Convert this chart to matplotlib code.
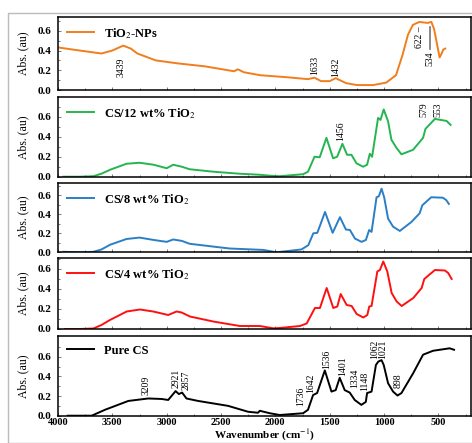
import matplotlib
matplotlib.use("Agg")
import matplotlib.pyplot as plt
from matplotlib.ticker import MultipleLocator, FixedLocator
from matplotlib.patches import Rectangle

plt.rcParams['font.family'] = ['Liberation Serif', 'DejaVu Serif']
plt.rcParams['mathtext.fontset'] = 'stix'

# ---- data ----
tio2_w = [3990, 3800, 3600, 3500, 3400, 3330, 3270, 3100, 2900, 2650, 2380, 2345, 2290,
          2140, 1900, 1700, 1640, 1580, 1500, 1445, 1350, 1250, 1100, 980, 890, 830, 780,
          735, 675, 600, 565, 540, 510, 489, 470, 455, 437]
tio2_a = [0.43, 0.40, 0.37, 0.40, 0.45, 0.42, 0.37, 0.30, 0.27, 0.24, 0.19, 0.21, 0.18,
          0.15, 0.13, 0.11, 0.125, 0.09, 0.09, 0.12, 0.07, 0.05, 0.05, 0.075, 0.15, 0.355, 0.56,
          0.66, 0.69, 0.68, 0.69, 0.62, 0.45, 0.33, 0.37, 0.41, 0.42]

cs12_w = [3950, 3800, 3675, 3600, 3520, 3370, 3250, 3120, 3000, 2940, 2860, 2790, 2570,
          2330, 2150, 2050, 1960, 1850, 1745, 1700, 1640, 1592, 1530, 1469, 1432, 1383, 1340,
          1300, 1254, 1193, 1156, 1131, 1110, 1055, 1033, 1003, 963, 932, 886, 840, 733, 641,
          619, 532, 425, 388]
cs12_a = [0.0, 0.0, 0.005, 0.03, 0.07, 0.13, 0.14, 0.12, 0.085, 0.12, 0.10, 0.075, 0.05,
          0.03, 0.02, 0.01, 0.005, 0.015, 0.025, 0.05, 0.2, 0.195, 0.39, 0.185, 0.2, 0.33, 0.22,
          0.22, 0.135, 0.10, 0.12, 0.23, 0.2, 0.59, 0.57, 0.675, 0.555, 0.37, 0.29, 0.225, 0.27,
          0.39, 0.48, 0.58, 0.56, 0.52]

cs8_w = [3950, 3800, 3675, 3600, 3520, 3370, 3250, 3120, 3000, 2940, 2860, 2790, 2570,
         2420, 2110, 1990, 1760, 1697, 1651, 1614, 1543, 1473, 1406, 1351, 1314, 1268, 1207,
         1167, 1137, 1115, 1069, 1048, 1023, 999, 963, 917, 855, 748, 673, 648, 566, 459, 428, 404]
cs8_a = [0.005, 0.0, 0.005, 0.03, 0.08, 0.14, 0.155, 0.13, 0.11, 0.135, 0.12, 0.09, 0.06,
         0.04, 0.025, 0.0, 0.03, 0.075, 0.2, 0.205, 0.425, 0.205, 0.37, 0.24, 0.235, 0.145, 0.11,
         0.13, 0.235, 0.215, 0.58, 0.59, 0.67, 0.58, 0.355, 0.27, 0.225, 0.32, 0.41, 0.495, 0.58,
         0.575, 0.55, 0.51]

cs4_w = [3936, 3800, 3675, 3600, 3522, 3368, 3246, 3124, 2986, 2909, 2863, 2786, 2572,
         2327, 2143, 2020, 1960, 1774, 1712, 1636, 1590, 1528, 1467, 1430, 1399, 1344, 1298,
         1252, 1191, 1154, 1136, 1115, 1062, 1038, 1007, 970, 930, 884, 838, 731, 654, 630,
         532, 440, 410, 378]
cs4_a = [0.0, 0.0, 0.005, 0.04, 0.09, 0.175, 0.195, 0.175, 0.14, 0.175, 0.165, 0.125, 0.075,
         0.03, 0.03, 0.007, 0.01, 0.03, 0.055, 0.21, 0.21, 0.41, 0.21, 0.225, 0.35, 0.24, 0.23,
         0.15, 0.115, 0.14, 0.225, 0.23, 0.575, 0.59, 0.675, 0.575, 0.36, 0.275, 0.23, 0.31, 0.41,
         0.5, 0.59, 0.585, 0.56, 0.5]

pure_w = [3911, 3690, 3568, 3353, 3170, 3047, 2986, 2918, 2888, 2858, 2818, 2711, 2435,
          2251, 2160, 2143, 2051, 1960, 1745, 1700, 1653, 1616, 1545, 1484, 1445, 1408, 1362,
          1316, 1270, 1209, 1168, 1156, 1115, 1075, 1053, 1023, 1003, 963, 917, 876, 840, 733,
          641, 549, 396, 356]
pure_a = [0.0, 0.0, 0.06, 0.15, 0.175, 0.17, 0.16, 0.25, 0.22, 0.235, 0.175, 0.15, 0.1,
          0.04, 0.03, 0.05, 0.025, 0.007, 0.025, 0.06, 0.21, 0.23, 0.46, 0.245, 0.26, 0.385, 0.26,
          0.235, 0.16, 0.11, 0.14, 0.23, 0.245, 0.515, 0.55, 0.565, 0.515, 0.33, 0.245, 0.205, 0.23,
          0.43, 0.62, 0.66, 0.685, 0.67]

labels = ['TiO$_2$-NPs', 'CS/12 wt% TiO$_2$', 'CS/8 wt% TiO$_2$', 'CS/4 wt% TiO$_2$', 'Pure CS']
colors = ['#f07e1c', '#25b550', '#2a7fc6', '#ff1010', 'black']
ymax = [0.74, 0.80, 0.73, 0.71, 0.81]
yticks = [0.0, 0.2, 0.4, 0.6]

# peak labels: (text, wavenumber, absorbance) per panel
peaks = [
    [('3439', 3424, 0.23), ('1633', 1638, 0.25), ('1432', 1445, 0.235), ('622 \u2013', 673, 0.54),
     ('534', 580, 0.32)],
    [('1456', 1398, 0.455), ('579', 630, 0.67), ('553', 507, 0.67)],
    [],
    [],
    [('3209', 3193, 0.31), ('2921', 2915, 0.38), ('2857', 2817, 0.36), ('1736', 1768, 0.195),
     ('1642', 1676, 0.33), ('1536', 1530, 0.57), ('1401', 1383, 0.5), ('1334', 1270, 0.38),
     ('1148', 1178, 0.345), ('1062', 1086, 0.67), ('1021', 1015, 0.67), ('898', 869, 0.36)],
]

series = [(tio2_w, tio2_a), (cs12_w, cs12_a), (cs8_w, cs8_a), (cs4_w, cs4_a), (pure_w, pure_a)]

W, H = 472, 443
fig = plt.figure(figsize=(W / 100, H / 100), dpi=100)
fig.patches.append(Rectangle((8 / W, 0), 1, 1 - 13 / H, transform=fig.transFigure,
                             fill=False, edgecolor='#bbbbbb', lw=1.0))

panel_px = [(17, 90), (97, 176.7), (183, 252.3), (258, 329), (336, 415.7)]
axes = []
for i, (top, bot) in enumerate(panel_px):
    ax = fig.add_axes([58 / W, 1 - bot / H, 413 / W, (bot - top) / H])
    w, a = series[i]
    ax.plot(w, a, color=colors[i], lw=1.4, label=labels[i])
    ax.set_xlim(4000, 200)
    ax.set_ylim(0, ymax[i])
    ax.xaxis.set_major_locator(MultipleLocator(500))
    ax.xaxis.set_minor_locator(MultipleLocator(250))
    ax.yaxis.set_major_locator(FixedLocator(yticks))
    ax.yaxis.set_minor_locator(FixedLocator([0.1, 0.3, 0.5, 0.7]))
    ax.tick_params(which='both', direction='in', length=2.5, width=0.6, colors='#666666',
                   labelcolor='black', labelsize=8)
    ax.tick_params(which='minor', length=1.5)
    ax.tick_params(axis='y', pad=5)
    for lab in ax.get_yticklabels():
        lab.set_fontweight('bold')
    for s in ax.spines.values():
        s.set_linewidth(1.1)
    ax.set_ylabel('Abs. (au)', fontsize=8.5, labelpad=6)
    if i < 4:
        ax.tick_params(labelbottom=False)
    ax.legend(loc='upper left', frameon=False, handlelength=2.2, borderaxespad=0.3,
              prop={'weight': 'bold', 'size': 9})
    for txt, pw, pa in peaks[i]:
        ax.text(pw, pa, txt, rotation=90, fontsize=7, ha='center', va='center')
    axes.append(ax)

# vertical mark line from the 534 peak down to its label
axes[0].plot([580, 580], [0.42, 0.64], color='#777777', lw=1.2)

axb = axes[-1]
for lab in axb.get_xticklabels():
    lab.set_fontweight('bold')
axb.tick_params(axis='x', labelsize=7.5, pad=2)
axb.set_xlabel('Wavenumber (cm$^{-1}$)', fontsize=8, fontweight='bold', labelpad=0)

fig.savefig('out.png', dpi=100)
